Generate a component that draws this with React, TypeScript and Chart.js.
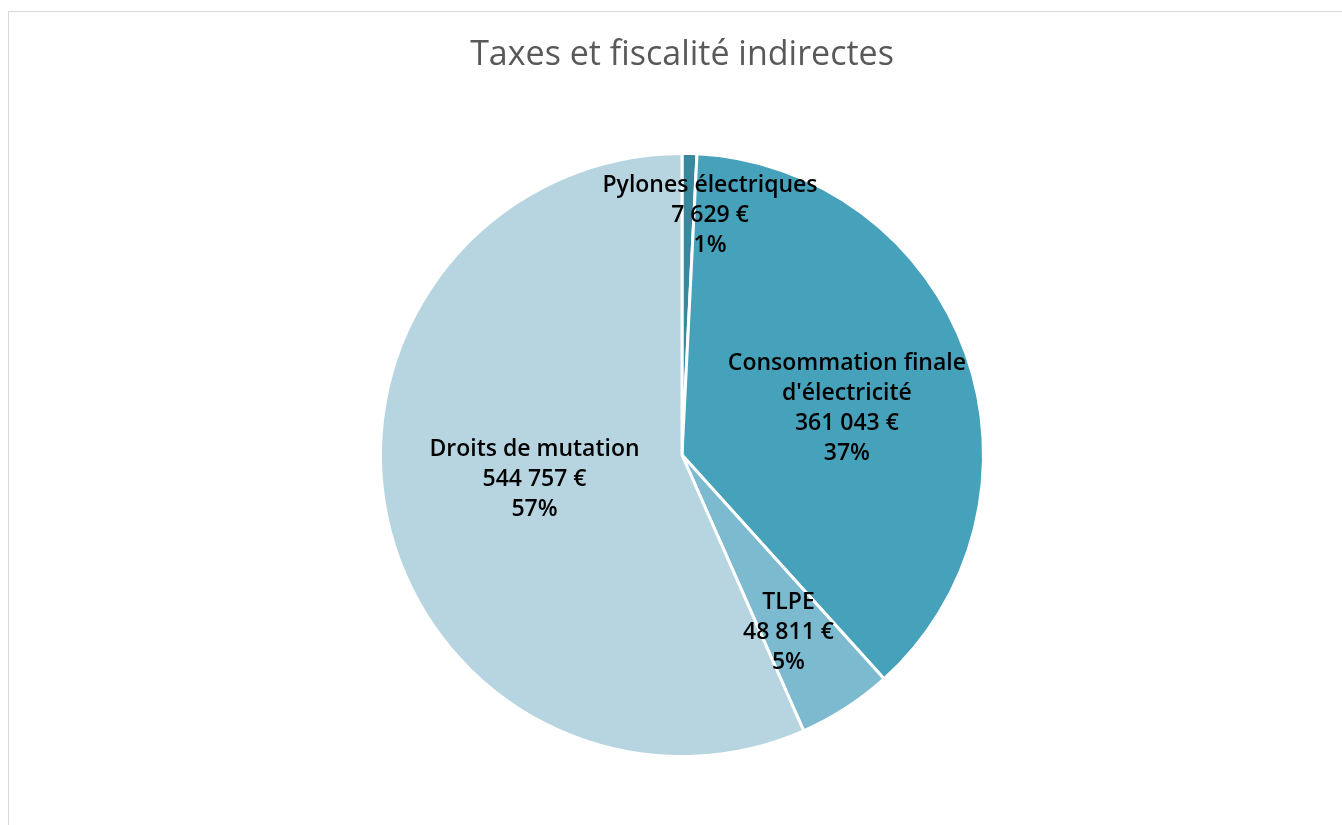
import React, { useEffect, useRef } from "react";
import { Chart, registerables } from "chart.js";

Chart.register(...registerables);

const TITLE = "Taxes et fiscalité indirectes";
const categories = ["Pylones électriques", "Consommation finale\nd'électricité", "TLPE", "Droits de mutation"];
const values = [7629, 361043, 48811, 544757];
const valueLabels = ["7 629 €", "361 043 €", "48 811 €", "544 757 €"];
const percentLabels = ["1%", "37%", "5%", "57%"];
const colors = ["#3a889e", "#46a1ba", "#7cbad0", "#b6d5e0"];
// label placement: fraction of radius along mid-angle, plus small nudge
const labelRadius = [0.8, 0.57, 0.68, 0.5];
const labelNudgeX = [22, 3, -5, 0];
const labelNudgeY = [2, 11, 5, -7];

const LABEL_FONT = "600 23px 'Open Sans', 'Liberation Sans', Arial, sans-serif";
const TITLE_FONT = "34px 'Open Sans', 'Liberation Sans', Arial, sans-serif";

const labelsPlugin = {
  id: "sliceLabels",
  afterDraw(chart: any) {
    const ctx = chart.ctx;
    const meta = chart.getDatasetMeta(0);
    ctx.save();
    ctx.font = TITLE_FONT;
    ctx.fillStyle = "#595959";
    ctx.textAlign = "center";
    ctx.textBaseline = "middle";
    const cx0 = (chart.chartArea.left + chart.chartArea.right) / 2;
    ctx.fillText(TITLE, cx0, 43);

    ctx.font = LABEL_FONT;
    ctx.fillStyle = "#000000";
    meta.data.forEach((arc: any, i: number) => {
      const p = arc.getProps(["x", "y", "startAngle", "endAngle", "outerRadius"], true);
      const mid = (p.startAngle + p.endAngle) / 2;
      const r = p.outerRadius * labelRadius[i];
      const x = p.x + Math.cos(mid) * r + labelNudgeX[i];
      const y = p.y + Math.sin(mid) * r + labelNudgeY[i];
      const lines = [...categories[i].split("\n"), valueLabels[i], percentLabels[i]];
      const lh = 30;
      const top = y - ((lines.length - 1) * lh) / 2;
      lines.forEach((t, k) => ctx.fillText(t, x, top + k * lh));
    });
    ctx.restore();
  },
};

export default function App() {
  const ref = useRef<HTMLCanvasElement>(null);
  useEffect(() => {
    if (!ref.current) return;
    const chart = new Chart(ref.current, {
      type: "pie",
      data: {
        labels: categories,
        datasets: [
          {
            data: values,
            backgroundColor: colors,
            borderColor: "#ffffff",
            borderWidth: 3,
          },
        ],
      },
      options: {
        animation: false,
        responsive: true,
        maintainAspectRatio: false,
        layout: { padding: { top: 140, bottom: 67, left: 13, right: 0 } },
        plugins: {
          legend: { display: false },
          tooltip: { enabled: false },
          title: { display: false },
        },
      },
      plugins: [labelsPlugin],
    });
    return () => chart.destroy();
  }, []);
  return (
    <div
      style={{
        position: "fixed",
        left: 8,
        top: 11,
        right: 0,
        bottom: 0,
        borderLeft: "1px solid #d9d9d9",
        borderTop: "1px solid #d9d9d9",
        background: "#fff",
      }}
    >
      <div style={{ position: "relative", width: "100%", height: "100%" }}>
        <canvas ref={ref} />
      </div>
    </div>
  );
}
